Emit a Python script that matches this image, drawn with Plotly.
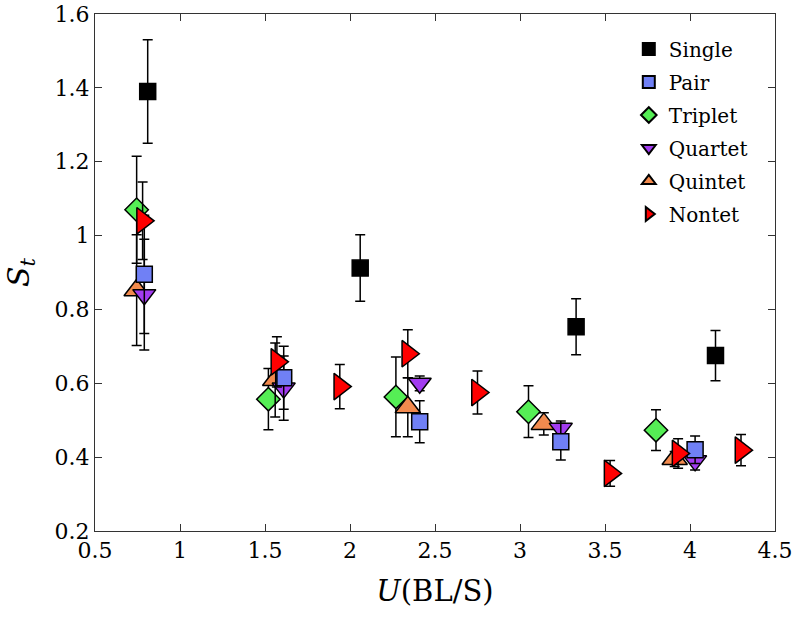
import plotly.graph_objects as go

# ---- data ----
single_x = [0.81, 2.06, 3.33, 4.15]
single_y = [1.39, 0.912, 0.753, 0.675]
single_e = [0.14, 0.09, 0.076, 0.068]

pair_x = [0.79, 1.61, 2.41, 3.24, 4.03]
pair_y = [0.895, 0.615, 0.496, 0.442, 0.42]
pair_e = [0.16, 0.085, 0.057, 0.05, 0.037]

triplet_x = [0.745, 1.52, 2.27, 3.05, 3.80]
triplet_y = [1.07, 0.557, 0.563, 0.523, 0.473]
triplet_e = [0.145, 0.083, 0.108, 0.07, 0.055]

quartet_x = [0.79, 1.61, 2.41, 3.24, 4.03]
quartet_y = [0.84, 0.587, 0.60, 0.478, 0.39]
quartet_e = [0.15, 0.087, 0.02, 0.02, 0.025]

quintet_x = [0.745, 1.56, 2.34, 3.14, 3.91]
quintet_y = [0.852, 0.609, 0.535, 0.49, 0.395]
quintet_e = [0.15, 0.1, 0.08, 0.03, 0.02]

nontet_x = [0.78, 1.57, 1.94, 2.34, 2.75, 3.53, 3.93, 4.30]
nontet_y = [1.04, 0.658, 0.591, 0.68, 0.575, 0.356, 0.41, 0.419]
nontet_e = [0.105, 0.068, 0.06, 0.065, 0.058, 0.035, 0.04, 0.042]

x_ticks = [0.5, 1, 1.5, 2, 2.5, 3, 3.5, 4, 4.5]
x_tick_labels = ["0.5", "1", "1.5", "2", "2.5", "3", "3.5", "4", "4.5"]
y_ticks = [0.2, 0.4, 0.6, 0.8, 1.0, 1.2, 1.4, 1.6]
y_tick_labels = ["0.2", "0.4", "0.6", "0.8", "1", "1.2", "1.4", "1.6"]

series = [
    # name, x, y, err, symbol, color, size, rank
    ("Triplet", triplet_x, triplet_y, triplet_e, "diamond", "#55EE55", 18, 3),
    ("Quintet", quintet_x, quintet_y, quintet_e, "triangle-up", "#F28A4E", 22, 5),
    ("Quartet", quartet_x, quartet_y, quartet_e, "triangle-down", "#A23CF0", 20, 4),
    ("Pair", pair_x, pair_y, pair_e, "square", "#7080F5", 16, 2),
    ("Single", single_x, single_y, single_e, "square", "#000000", 16, 1),
    ("Nontet", nontet_x, nontet_y, nontet_e, "triangle-right", "#FF0000", 23, 6),
]

fig = go.Figure()
for name, xs, ys, es, sym, col, sz, rank in series:
    fig.add_trace(go.Scatter(
        x=xs, y=ys, mode="markers", name=name,
        legendrank=rank, legendgroup=name,
        marker=dict(symbol=sym, color=col, size=sz,
                    line=dict(color="black", width=1.5)),
        error_y=dict(type="data", array=es, visible=True,
                     color="black", thickness=1.5, width=5),
    ))

tick_font = "DejaVu Serif"
legend_font = "DejaVu Serif"

fig.update_layout(
    width=793, height=621,
    margin=dict(l=95, r=18, t=14, b=90, autoexpand=False),
    plot_bgcolor="white", paper_bgcolor="white",
    font=dict(family=tick_font, color="black", size=22),
    showlegend=True,
    legend=dict(x=0.785, y=0.97, xanchor="left", yanchor="top",
                font=dict(family=legend_font, size=20, color="black"),
                bgcolor="rgba(255,255,255,0)", tracegroupgap=4,
                itemsizing="constant"),
    xaxis=dict(range=[0.5, 4.5], tickvals=x_ticks, ticktext=x_tick_labels,
               ticks="inside", ticklen=7, tickcolor="#333", showline=True,
               linecolor="#333", linewidth=1, mirror="allticks",
               showgrid=False, zeroline=False, automargin=False,
               tickfont=dict(family=tick_font, size=22, color="black"),
               title=dict(text="<i>U</i>(BL/S)",
                          font=dict(family=tick_font, size=29, color="black"),
                          standoff=18)),
    yaxis=dict(range=[0.2, 1.6], tickvals=y_ticks, ticktext=y_tick_labels,
               ticks="inside", ticklen=7, tickcolor="#333", showline=True,
               linecolor="#333", linewidth=1, mirror="allticks",
               showgrid=False, zeroline=False, automargin=False,
               tickfont=dict(family=tick_font, size=22, color="black"),
               title=dict(text="<i>S</i><sub><i>t</i></sub>",
                          font=dict(family=tick_font, size=30, color="black"),
                          standoff=16)),
)

fig.write_html("out.html", config={"displayModeBar": False},
               post_script="document.body.style.margin='0';")
